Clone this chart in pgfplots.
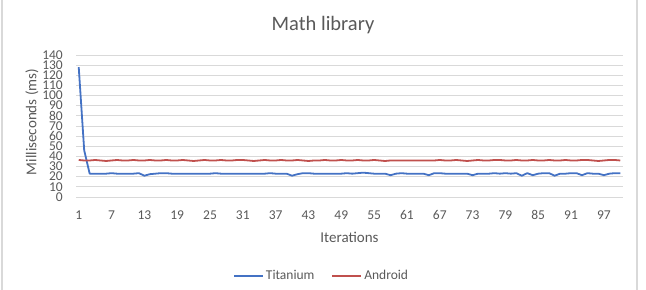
\documentclass[border=0pt]{standalone}
\usepackage{pgfplots}
\pgfplotsset{compat=1.18}
\usepackage{pgfplotstable}
\usepackage{fontspec}
\setmainfont{Carlito}
\definecolor{tiblue}{RGB}{68,114,196}
\definecolor{andred}{RGB}{192,80,77}
\definecolor{txtgrey}{RGB}{89,89,89}
\definecolor{gridgrey}{RGB}{217,217,217}

\pgfplotstableread{
it ti an
1 128 36.5
2 46 36.0
3 23 36.0
4 23 36.5
5 23 36.0
6 23 35.5
7 23.5 36.0
8 23 36.5
9 23 36.0
10 23 36.0
11 23 36.5
12 23.5 36.0
13 21 36.0
14 22.5 36.5
15 23 36.0
16 23.5 36.0
17 23.5 36.5
18 23 36.0
19 23 36.0
20 23 36.5
21 23 36.0
22 23 35.5
23 23 36.0
24 23 36.5
25 23 36.0
26 23.5 36.0
27 23 36.5
28 23 36.0
29 23 36.0
30 23 36.5
31 23 36.5
32 23 36.0
33 23 35.5
34 23 36.0
35 23 36.5
36 23.5 36.0
37 23 36.0
38 23 36.5
39 23 36.0
40 21 36.0
41 22.5 36.5
42 23.5 36.0
43 23.5 35.5
44 23 36.0
45 23 36.0
46 23 36.5
47 23 36.0
48 23 36.0
49 23 36.5
50 23.5 36.0
51 23 36.0
52 23.5 36.5
53 24 36.0
54 23.5 36.0
55 23 36.5
56 23 36.0
57 23 35.5
58 21.5 36.0
59 23 36.0
60 23.5 36.0
61 23 36.0
62 23 36.0
63 23 36.0
64 23 36.0
65 21.5 36.0
66 23.5 36.0
67 23.5 36.5
68 23 36.0
69 23 36.0
70 23 36.5
71 23 36.0
72 23 35.5
73 21.5 36.0
74 23 36.5
75 23 36.0
76 23 36.0
77 23.5 36.5
78 23 36.5
79 23.5 36.0
80 23 36.0
81 23.5 36.5
82 21 36.0
83 23.5 36.0
84 21.5 36.5
85 23 36.0
86 23.5 36.0
87 23.5 36.5
88 21 36.0
89 23 36.0
90 23 36.5
91 23.5 36.0
92 23.5 36.0
93 21.5 36.5
94 23.5 36.5
95 23 36.0
96 23 35.5
97 21.5 36.0
98 23 36.5
99 23.5 36.5
100 23.5 36.0
}\datatable

\begin{document}
\begin{tikzpicture}
\useasboundingbox (0,0) rectangle (646bp,290bp);
\draw[gridgrey, line width=1.5bp] (2bp,0) -- (2bp,290bp);
\draw[gridgrey, line width=1.5bp] (637bp,0) -- (637bp,290bp);
\node[text=txtgrey, font=\fontsize{20.5bp}{24bp}\selectfont] at (323bp,265bp) {Math library};
\node[text=txtgrey, rotate=90, font=\fontsize{15bp}{18bp}\selectfont] at (32bp,168bp) {Milliseconds (ms)};
\begin{axis}[
  at={(76bp,93bp)}, anchor=south west,
  scale only axis, width=547bp, height=142bp,
  xmin=0.5, xmax=100.5, ymin=0, ymax=140,
  xtick={1,7,...,97}, ytick={0,10,...,140},
  axis line style={draw=none},
  tick style={draw=none},
  ymajorgrids, grid style={gridgrey, line width=0.75bp},
  /pgf/number format/assume math mode=true,
  ticklabel style={text=txtgrey, font=\fontsize{13.5bp}{14bp}\selectfont},
  xticklabel style={anchor=center, yshift=-18bp},
  yticklabel style={anchor=east, inner sep=0pt, xshift=-13bp, text height=8.4bp, text depth=0pt},
  xlabel={Iterations},
  xlabel style={text=txtgrey, font=\fontsize{15bp}{18bp}\selectfont, anchor=center, at={(axis description cs:0.5,0)}, yshift=-40bp},
  legend columns=2,
  legend style={at={(axis description cs:0.449,-0.556)}, anchor=center, draw=none, fill=none,
    font=\fontsize{13.5bp}{14bp}\selectfont, text=txtgrey, inner sep=0pt,
    /tikz/every even column/.append style={column sep=15bp}},
  legend cell align=left,
  legend image code/.code={\draw[#1] (0bp,0bp) -- (29bp,0bp);},
  clip=false,
]
\addplot[tiblue, line width=1.8bp, line join=round] table[x=it, y=ti] {\datatable};
\addlegendentry{Titanium}
\addplot[andred, line width=1.8bp, line join=round] table[x=it, y=an] {\datatable};
\addlegendentry{Android}
\end{axis}
\end{tikzpicture}
\end{document}
